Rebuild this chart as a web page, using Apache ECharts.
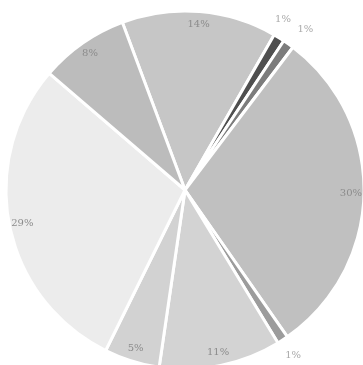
<!DOCTYPE html>
<html>
<head>
<meta charset="utf-8">
<style>
  html, body { margin: 0; padding: 0; background: #ffffff; }
  #chart { width: 363px; height: 365px; }
</style>
<script src="https://cdn.jsdelivr.net/npm/echarts@6/dist/echarts.min.js"></script>
</head>
<body>
<div id="chart"></div>
<script>
// Share of each segment, in percent, listed clockwise from the top slice
const names = ['A', 'B', 'C', 'D', 'E', 'F', 'G', 'H', 'I'];
const values = [14, 1, 1, 30, 1, 11, 5, 29, 8];
const colors = ['#c6c6c6', '#4f4f4f', '#7c7c7c', '#c0c0c0', '#9c9c9c', '#d3d3d3', '#d2d2d2', '#ececec', '#bcbcbc'];
// Slices too thin to carry their label inside
const smallLimit = 2;

const CX = 185, CY = 190, R = 179;
const START = 110.5;

const sliceData = names.map((n, i) => ({ name: n, value: values[i], itemStyle: { color: colors[i] } }));

// Neighbouring thin slices get their labels nudged apart so they do not collide
let smallSeen = 0;
function labelData(showSmall) {
  let k = 0;
  return names.map((n, i) => {
    const small = values[i] < smallLimit;
    const item = { name: n, value: values[i], label: { show: small === showSmall } };
    if (small && showSmall) {
      if (k === 0) item.label.offset = [-6, -2];
      if (k === 1) item.label.offset = [6, 1];
      k++;
    }
    return item;
  });
}

const labelRing = (r0, r1, showSmall, color) => ({
  type: 'pie',
  center: [CX, CY],
  radius: [r0, r1],
  startAngle: START,
  silent: true,
  avoidLabelOverlap: false,
  itemStyle: { color: 'rgba(0,0,0,0)', borderWidth: 0 },
  label: {
    position: 'inside',
    formatter: '{d}%',
    color: color,
    fontSize: 10,
    fontFamily: 'DejaVu Serif'
  },
  labelLine: { show: false },
  labelLayout: { hideOverlap: false },
  emphasis: { disabled: true },
  data: labelData(showSmall)
});

const chart = echarts.init(document.getElementById('chart'), null, { renderer: 'canvas' });
chart.setOption({
  animation: false,
  backgroundColor: '#ffffff',
  series: [
    {
      type: 'pie',
      center: [CX, CY],
      radius: [0, R],
      startAngle: START,
      silent: true,
      label: { show: false },
      labelLine: { show: false },
      itemStyle: { borderColor: '#ffffff', borderWidth: 3 },
      data: sliceData
    },
    labelRing(152, 174, false, '#8c8c8c'),
    labelRing(186, 204, true, '#aaaaaa')
  ]
});
</script>
</body>
</html>
